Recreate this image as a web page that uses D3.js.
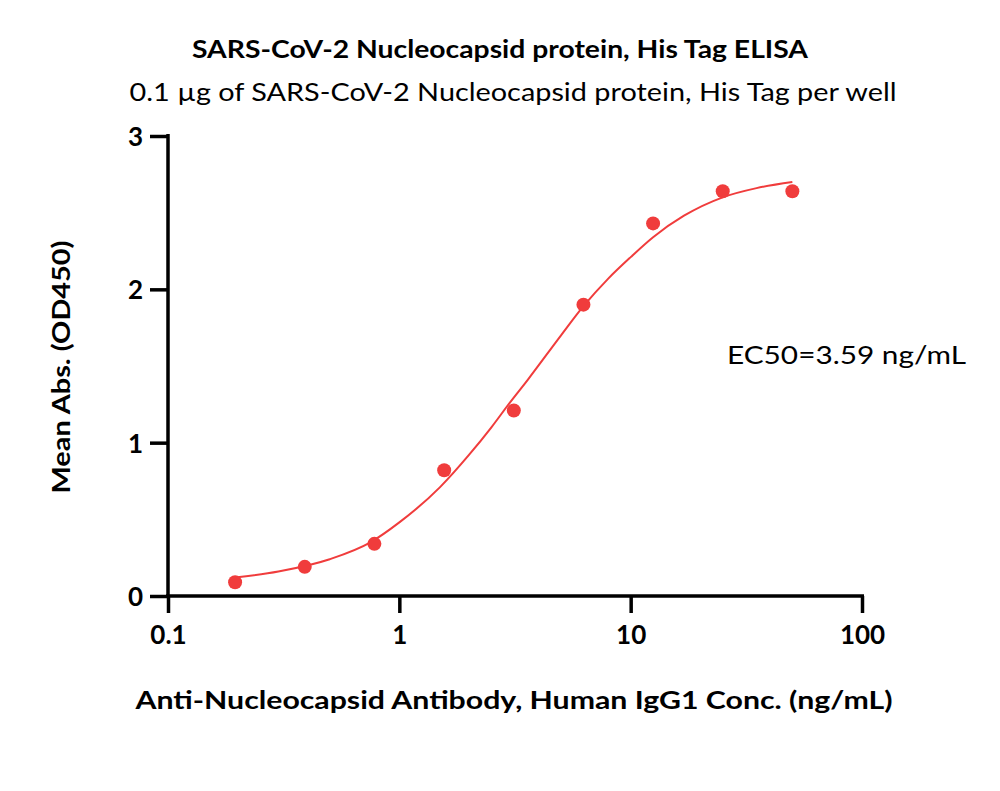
<!DOCTYPE html>
<html><head><meta charset="utf-8">
<script src="https://cdn.jsdelivr.net/npm/d3@7"></script>
<style>body{margin:0;background:#fff}svg{display:block}</style>
</head><body>
<svg id="c" width="1000" height="791"></svg>
<script>
// Data
const concentrations = [0.195, 0.39, 0.78, 1.5625, 3.125, 6.25, 12.5, 25, 50];
const meanAbs = [0.09, 0.19, 0.34, 0.82, 1.21, 1.90, 2.43, 2.64, 2.64];
const fitX = [0.195, 0.3, 0.5, 0.75, 1.0, 1.5, 2.0, 2.5, 3.0, 3.59, 5, 6.25, 8, 10, 12.5, 17, 25, 35, 50];
const fitY = [0.12, 0.16, 0.24, 0.35, 0.48, 0.71, 0.92, 1.10, 1.26, 1.41, 1.70, 1.89, 2.07, 2.21, 2.34, 2.48, 2.60, 2.66, 2.70];
const xTicks = [0.1, 1, 10, 100];
const xTickLabels = ["0.1", "1", "10", "100"];
const yTicks = [0, 1, 2, 3];

const FONT = "Lato, 'Open Sans', sans-serif";
const RED = "#f03c3c";
const svg = d3.select("#c");

const x = d3.scaleLog().domain([0.1, 100]).range([168, 862]);
const y = d3.scaleLinear().domain([0, 3]).range([596, 136]);

// Axes
const gx = svg.append("g").attr("transform", "translate(0,596)")
  .call(d3.axisBottom(x).tickValues(xTicks).tickFormat((d, i) => xTickLabels[i]).tickSize(17).tickPadding(13).tickSizeOuter(0));
const gy = svg.append("g").attr("transform", "translate(168,0)")
  .call(d3.axisLeft(y).tickValues(yTicks).tickFormat(d3.format("d")).tickSize(18).tickPadding(7).tickSizeOuter(0));
[gx, gy].forEach(g => {
  g.select(".domain").attr("stroke", "#000").attr("stroke-width", 3.5);
  g.selectAll(".tick line").attr("stroke", "#000").attr("stroke-width", 3.5);
  g.selectAll(".tick text").attr("fill", "#000").style("font-family", FONT)
    .style("font-size", "26px").style("font-weight", "bold");
});
gx.select(".domain").attr("d", "M166,0H864");
gy.select(".domain").attr("d", "M0,134V598");
gy.selectAll(".tick text").attr("dy", "0.36em");

// Fit curve
const line = d3.line().x((d, i) => x(fitX[i])).y((d, i) => y(fitY[i])).curve(d3.curveMonotoneX);
svg.append("path").datum(fitX).attr("d", line)
  .attr("fill", "none").attr("stroke", RED).attr("stroke-width", 2);

// Points
svg.append("g").selectAll("circle").data(concentrations).join("circle")
  .attr("cx", d => x(d)).attr("cy", (d, i) => y(meanAbs[i])).attr("r", 7).attr("fill", RED);

// Texts
function txt(s, xx, yy, size, weight, len, anchor = "middle") {
  return svg.append("text").attr("x", xx).attr("y", yy).attr("text-anchor", anchor)
    .style("font-family", FONT).style("font-size", size + "px").style("font-weight", weight)
    .attr("fill", "#000").attr("textLength", len).attr("lengthAdjust", "spacingAndGlyphs").text(s);
}
txt("SARS-CoV-2 Nucleocapsid protein, His Tag ELISA", 500, 58, 24, "bold", 616);
txt("0.1 µg of SARS-CoV-2 Nucleocapsid protein, His Tag per well", 513, 101, 25, "normal", 767);
txt("Anti-Nucleocapsid Antibody, Human IgG1 Conc. (ng/mL)", 514, 709, 25, "bold", 757);
txt("EC50=3.59 ng/mL", 727, 364, 25, "normal", 239, "start");
txt("Mean Abs. (OD450)", 0, 0, 25, "bold", 253)
  .attr("transform", "translate(70,367) rotate(-90)");
</script>
</body></html>
